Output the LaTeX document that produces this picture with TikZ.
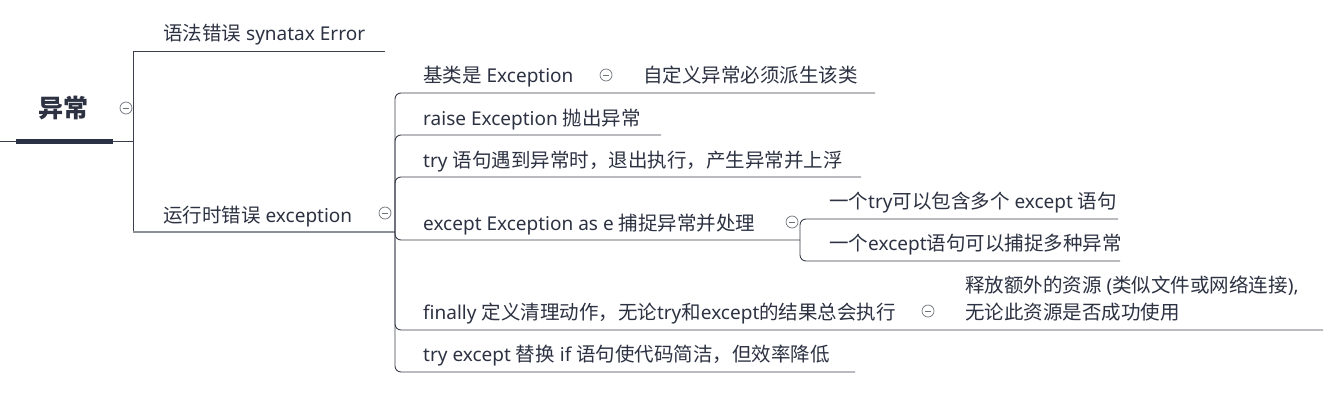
\documentclass[tikz,border=0pt]{standalone}
\usepackage{fontspec}
\setmainfont{Noto Sans CJK SC}
\newfontfamily\latinfam[Scale=0.975]{Noto Sans}
\newcommand\enf[1]{{\latinfam #1}}
\definecolor{txt}{HTML}{2C3242}
\definecolor{ln}{HTML}{3A3F4B}
\definecolor{lnlight}{HTML}{8C9099}
\definecolor{barc}{HTML}{2B3245}
\definecolor{circ}{HTML}{6E727B}
\tikzset{
  lbl/.style={inner sep=0pt, anchor=base west, text=txt, font=\fontsize{19.5}{23}\selectfont},
  rootlbl/.style={inner sep=0pt, anchor=center, text=txt, font=\fontsize{25}{30}\selectfont\bfseries},
  conn/.style={draw=ln, line width=0.9pt, rounded corners=6pt},
  sharp/.style={draw=ln, line width=0.9pt},
  toggle/.style={circle, draw=circ, line width=0.7pt, minimum size=12pt, inner sep=0pt,
    path picture={\draw[circ, line width=0.7pt] ([xshift=-3pt]path picture bounding box.center) -- ([xshift=3pt]path picture bounding box.center);}},
}
\begin{document}
\begin{tikzpicture}[x=1pt,y=-1pt]
\useasboundingbox[fill=white] (0,0) rectangle (1337,401);
% root
\node[rootlbl] (root) at (63,108) {异常};
\node[toggle] (t0) at (126,108) {};
\coordinate (r0) at (0,141);
\coordinate (rj) at (133,141);
\coordinate (barl) at (16,141);
\coordinate (barr) at (113,141);
\draw[sharp] (r0) -- (rj);
\draw[barc, line width=5pt] (barl) -- (barr);
% level 1
\node[lbl] (b1) at (163,41) {语法错误\enf{ synatax Error}};
\coordinate (b1e) at (385,51);
\node[lbl] (b2) at (163,222) {运行时错误\enf{ exception}};
\node[toggle] (t2) at (385,213) {};
\coordinate (b2c) at (133,232);
\coordinate (b2e) at (395,232);
\draw[sharp] (rj) |- (b1e);
\draw[sharp] (rj) -- (b2c);
\draw[draw=lnlight, line width=1.2pt] (b2c) -- (b2e);
% level 2
\node[lbl] (c1) at (423,83) {基类是\enf{ Exception}};
\node[toggle] (t1) at (606,75) {};
\node[lbl] (c1a) at (643,83) {自定义异常必须派生该类};
\coordinate (c1e) at (875,93);
\node[lbl] (c2) at (423,125) {\enf{raise Exception }抛出异常};
\coordinate (c2e) at (661,135);
\node[lbl] (c3) at (423,167) {\enf{try }语句遇到异常时，退出执行，产生异常并上浮};
\coordinate (c3e) at (861,177);
\node[lbl] (c4) at (423,230) {\enf{except Exception as e }捕捉异常并处理};
\node[toggle] (t4) at (792,222) {};
\coordinate (c4e) at (800,240);
\node[lbl] (c5) at (423,319) {\enf{finally }定义清理动作，无论\enf{try}和\enf{except}的结果总会执行};
\node[toggle] (t5) at (928,311) {};
\node[lbl, anchor=west, align=left, font=\fontsize{19.5}{27}\selectfont] (c5a) at (965,298.5) {释放额外的资源\enf{ (}类似文件或网络连接\enf{),}\\无论此资源是否成功使用};
\coordinate (c5e) at (1323,330);
\node[lbl] (c6) at (423,361) {\enf{try except }替换\enf{ if }语句使代码简洁，但效率降低};
\coordinate (c6e) at (855,372);
\foreach \e in {c1e,c2e,c3e,c4e,c5e,c6e} \draw[conn] (b2e) |- (\e);
% level 3
\node[lbl] (d1) at (829,208) {一个\enf{try}可以包含多个\enf{ except }语句};
\coordinate (d1e) at (1118,219);
\node[lbl] (d2) at (829,250) {一个\enf{except}语句可以捕捉多种异常};
\coordinate (d2e) at (1120,261);
\draw[conn] (c4e) |- (d1e);
\draw[conn] (c4e) |- (d2e);
\end{tikzpicture}
\end{document}
